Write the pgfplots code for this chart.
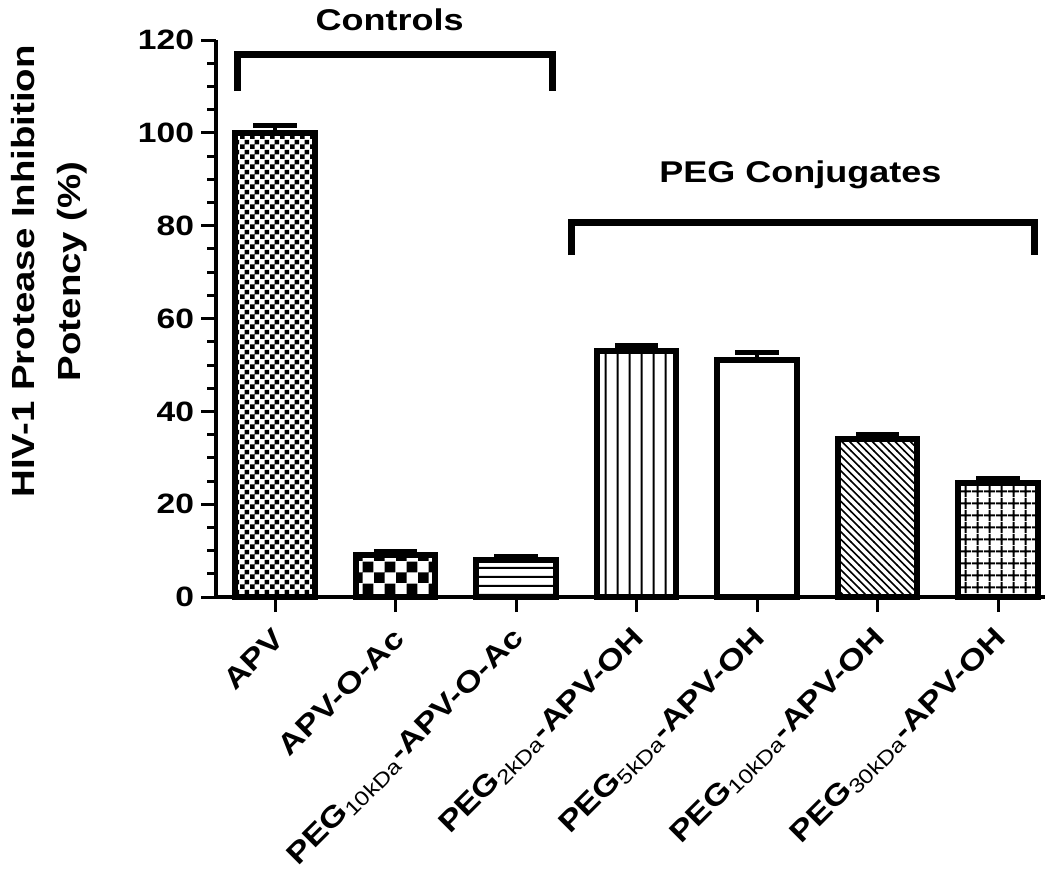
\documentclass[border=0pt]{standalone}
\usepackage{fontspec}
\setmainfont{Liberation Sans}[FakeStretch=1.2]
\usepackage{pgfplots}
\pgfplotsset{compat=1.18}
\usetikzlibrary{patterns}

\pgfdeclarepatternformonly{smallcheck}{\pgfpointorigin}{\pgfqpoint{5pt}{5pt}}{\pgfqpoint{5pt}{5pt}}{%
 \pgfpathrectangle{\pgfpointorigin}{\pgfqpoint{2.5pt}{2.5pt}}%
 \pgfpathrectangle{\pgfqpoint{2.5pt}{2.5pt}}{\pgfqpoint{2.5pt}{2.5pt}}%
 \pgfusepath{fill}}
\pgfdeclarepatternformonly{bigcheck}{\pgfpointorigin}{\pgfqpoint{11pt}{11pt}}{\pgfqpoint{11pt}{11pt}}{%
 \pgfpathrectangle{\pgfpointorigin}{\pgfqpoint{5.5pt}{5.5pt}}%
 \pgfpathrectangle{\pgfqpoint{5.5pt}{5.5pt}}{\pgfqpoint{5.5pt}{5.5pt}}%
 \pgfusepath{fill}}
\pgfdeclarepatternformonly{hlines}{\pgfpointorigin}{\pgfqpoint{100pt}{4.5pt}}{\pgfqpoint{100pt}{4.5pt}}{%
 \pgfsetlinewidth{1pt}\pgfpathmoveto{\pgfqpoint{0pt}{2.25pt}}\pgfpathlineto{\pgfqpoint{100pt}{2.25pt}}\pgfusepath{stroke}}
\pgfdeclarepatternformonly{vlines}{\pgfpointorigin}{\pgfqpoint{6pt}{100pt}}{\pgfqpoint{6pt}{100pt}}{%
 \pgfsetlinewidth{1pt}\pgfpathmoveto{\pgfqpoint{3pt}{0pt}}\pgfpathlineto{\pgfqpoint{3pt}{100pt}}\pgfusepath{stroke}}
\pgfdeclarepatternformonly{nwl}{\pgfqpoint{-1pt}{-1pt}}{\pgfqpoint{5pt}{5pt}}{\pgfqpoint{3.8pt}{3.8pt}}{%
 \pgfsetlinewidth{0.8pt}\pgfpathmoveto{\pgfqpoint{-0.1pt}{3.9pt}}\pgfpathlineto{\pgfqpoint{3.9pt}{-0.1pt}}\pgfusepath{stroke}}
\pgfdeclarepatternformonly{mygrid}{\pgfpointorigin}{\pgfqpoint{6pt}{6pt}}{\pgfqpoint{6pt}{6pt}}{%
 \pgfsetlinewidth{1pt}%
 \pgfpathmoveto{\pgfqpoint{3pt}{0pt}}\pgfpathlineto{\pgfqpoint{3pt}{6pt}}%
 \pgfpathmoveto{\pgfqpoint{0pt}{3pt}}\pgfpathlineto{\pgfqpoint{6pt}{3pt}}\pgfusepath{stroke}}

\begin{document}
\begin{tikzpicture}
\begin{axis}[
  scale only axis, width=414.5pt, height=278.5pt,
  xmin=-0.49, xmax=6.39, ymin=0, ymax=120,
  axis x line*=bottom, axis y line*=left,
  axis line style={line width=2pt, black},
  ytick={0,20,...,120}, minor y tick num=3,
  xtick={0,...,6},
  xticklabels={APV, APV-O-Ac, PEG\textsubscript{\mdseries 10kDa}-APV-O-Ac, PEG\textsubscript{\mdseries 2kDa}-APV-OH, PEG\textsubscript{\mdseries 5kDa}-APV-OH, PEG\textsubscript{\mdseries 10kDa}-APV-OH, PEG\textsubscript{\mdseries 30kDa}-APV-OH},
  tick style={line width=1.5pt, black},
  major tick length=7.5pt, minor tick length=4.5pt,
  tick align=outside,
  /pgf/number format/assume math mode=true,
  yticklabel style={font=\bfseries\fontsize{14}{16}\selectfont},
  xticklabel style={font=\bfseries\fontsize{14.5}{16}\selectfont, rotate=45, anchor=east, xshift=-3pt, yshift=-9pt},
  ylabel={HIV-1 Protease Inhibition\\Potency (\%)},
  ylabel style={align=center, font=\bfseries\fontsize{16}{23}\selectfont, at={(axis description cs:-0.201,0.585)}, anchor=center},
  clip=false,
  ybar, bar width=0.66,
  error bars/y dir=plus, error bars/y explicit,
  error bars/error bar style={line width=2pt, black},
  error bars/error mark options={black, line width=2.5pt, mark size=10.8pt, rotate=90},
]
\addplot[bar shift=0pt, draw=black, line width=3pt, pattern=smallcheck] coordinates {(0,100) +- (0,1.5)};
\addplot[bar shift=0pt, draw=black, line width=3pt, pattern=bigcheck] coordinates {(1,9) +- (0,0.8)};
\addplot[bar shift=0pt, draw=black, line width=3pt, pattern=hlines] coordinates {(2,8) +- (0,0.7)};
\addplot[bar shift=0pt, draw=black, line width=3pt, pattern=vlines] coordinates {(3,53) +- (0,1.3)};
\addplot[bar shift=0pt, draw=black, line width=3pt, fill=white] coordinates {(4,51) +- (0,1.8)};
\addplot[bar shift=0pt, draw=black, line width=3pt, pattern=nwl] coordinates {(5,34) +- (0,1)};
\addplot[bar shift=0pt, draw=black, line width=3pt, pattern=mygrid] coordinates {(6,24.5) +- (0,1)};
\draw[line width=3.5pt] (axis cs:-0.31,109) -- (axis cs:-0.31,116.8) -- (axis cs:2.30,116.8) -- (axis cs:2.30,109);
\draw[line width=3.5pt] (axis cs:2.46,73.7) -- (axis cs:2.46,80.8) -- (axis cs:6.3,80.8) -- (axis cs:6.3,73.7);
\node[font=\bfseries\fontsize{15}{18}\selectfont] at (axis cs:0.95,124.3) {Controls};
\node[font=\bfseries\fontsize{15}{18}\selectfont] at (axis cs:4.36,91) {PEG Conjugates};
\coordinate (bbl) at (rel axis cs:-0.2606,-0.488);
\coordinate (btr) at (rel axis cs:1.006,1.072);
\end{axis}
\pgfresetboundingbox
\path[use as bounding box] (bbl) rectangle (btr);
\end{tikzpicture}
\end{document}
